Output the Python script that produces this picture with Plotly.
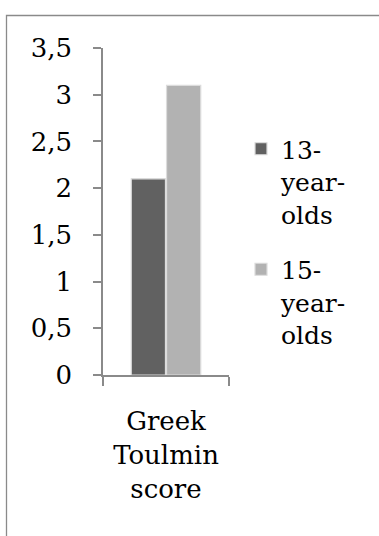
import plotly.graph_objects as go

# Data
categories = ["Greek<br>Toulmin<br>score"]
series_names = ["13-<br>year-<br>olds", "15-<br>year-<br>olds"]
series_values = [[2.1], [3.1]]
series_colors = ["#616161", "#b2b2b2"]

# Figure geometry (pixels)
W, H = 379, 536
ML, MR, MT, MB = 103, 150, 48, 161
plot_w = W - ML - MR
plot_h = H - MT - MB

FONT = "DejaVu Serif"
AXIS_GRAY = "#8a8a8a"

fig = go.Figure()
for name, vals, col in zip(series_names, series_values, series_colors):
    fig.add_trace(go.Bar(
        x=categories, y=vals, name=name, legendgroup=name,
        marker=dict(color=col, line=dict(color="#dcdcdc", width=1.2)),
    ))


def px_x(p):
    return (p - ML) / plot_w


def px_y(p):
    return (H - MB - p) / plot_h


fig.update_layout(
    width=W, height=H,
    margin=dict(l=ML, r=MR, t=MT, b=MB, pad=0),
    paper_bgcolor="white", plot_bgcolor="white",
    separators=",.",
    barmode="group", bargap=0.44, bargroupgap=0.03,
    font=dict(family=FONT, color="black", size=26),
    showlegend=True,
    legend=dict(
        x=px_x(241), y=px_y(126), xanchor="left", yanchor="top",
        font=dict(family=FONT, size=25, color="black"),
        valign="top", tracegroupgap=20, itemwidth=30,
        bgcolor="rgba(0,0,0,0)", borderwidth=0,
    ),
    xaxis=dict(
        showline=True, linecolor=AXIS_GRAY, linewidth=1.5,
        ticks="outside", tickson="boundaries", ticklen=9,
        tickcolor=AXIS_GRAY, tickwidth=1.5, tickangle=0,
        tickfont=dict(family=FONT, size=26, color="black"),
        ticklabelstandoff=22,
        showgrid=False, zeroline=False, fixedrange=True,
    ),
    yaxis=dict(
        range=[0, 3.5], dtick=0.5, tick0=0,
        showline=True, linecolor=AXIS_GRAY, linewidth=1.5,
        ticks="outside", ticklen=8, tickcolor=AXIS_GRAY, tickwidth=1.5,
        tickfont=dict(family=FONT, size=26, color="black"),
        ticklabelstandoff=16,
        showgrid=False, zeroline=False, fixedrange=True,
    ),
    shapes=[dict(
        type="rect", xref="paper", yref="paper",
        x0=px_x(6.5), x1=px_x(W + 20), y0=px_y(H + 20), y1=px_y(15.5),
        line=dict(color=AXIS_GRAY, width=1.3), fillcolor="rgba(0,0,0,0)",
        layer="below",
    )],
)

fig.write_html("out.html")
